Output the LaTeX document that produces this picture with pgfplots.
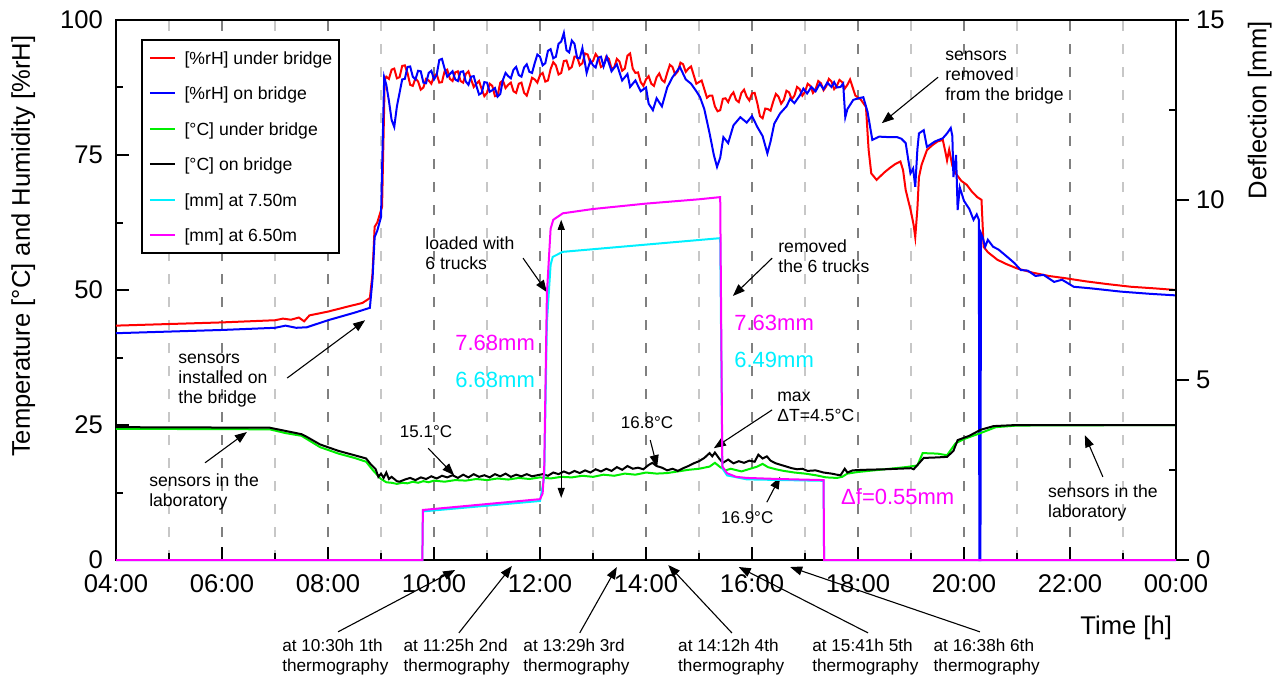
\documentclass[border=0pt]{standalone}
\usepackage{fontspec}
\setmainfont{Liberation Sans}
\usepackage{pgfplots}
\pgfplotsset{compat=1.18}
\usetikzlibrary{arrows.meta}
\definecolor{cRed}{RGB}{255,0,0}
\definecolor{cBlue}{RGB}{0,0,255}
\definecolor{cGreen}{RGB}{0,238,0}
\definecolor{cCyan}{RGB}{0,240,255}
\definecolor{cMag}{RGB}{255,0,255}
\newcommand{\tickfont}{\fontsize{12.8}{14}\selectfont}
\newcommand{\annfont}{\fontsize{8.8}{10}\selectfont}
\newcommand{\thfont}{\fontsize{8.6}{9.7}\selectfont}
\newcommand{\mmfont}{\fontsize{11}{13}\selectfont}
\newcommand{\tfont}{\fontsize{8.5}{10}\selectfont}
\begin{document}
\begin{tikzpicture}[
  ann/.style={draw=black, line width=0.55pt, -{Triangle[length=6pt,width=4.5pt]}},
  txt/.style={inner sep=0pt, align=left}
]
\begin{axis}[
  scale only axis, width=530pt, height=270pt, at={(0,0)}, anchor=south west,
  xmin=4, xmax=24, ymin=0, ymax=100, clip=false,
  xtick={4,6,...,24},
  xticklabels={04:00,06:00,08:00,10:00,12:00,14:00,16:00,18:00,20:00,22:00,00:00},
  minor xtick={5,7,...,23},
  ytick={0,25,50,75,100}, minor ytick={12.5,37.5,62.5,87.5},
  xtick pos=lower, ytick pos=left, tick align=inside,
  major tick length=6.5pt, minor tick length=3.5pt,
  tick style={black, line width=1pt},
  axis line style={line width=1.4pt},
  xmajorgrids, xminorgrids,
  major grid style={dash pattern=on 5pt off 6.5pt, line width=0.9pt, color=black!50},
  minor grid style={dash pattern=on 5pt off 6.5pt, line width=0.9pt, color=black!22},
  /pgf/number format/assume math mode=true,
  ticklabel style={font=\tickfont},
  xticklabel style={yshift=-4pt},
  yticklabel style={xshift=-3pt},
  legend cell align=left,
  legend image code/.code={\draw[#1] (0pt,0pt) -- (12.5pt,0pt);},
  legend style={at={(axis description cs:0,1)}, anchor=north west, xshift=12.5pt, yshift=-9.5pt,
    draw=black, line width=1pt, font=\annfont, inner xsep=3.5pt, inner ysep=3.2pt,
    row sep=6.25pt, column sep=4.3pt, nodes={inner sep=0pt, text height=9pt, text depth=2.5pt}},
]
\addplot[cRed, line width=1pt] coordinates {(4,43.4)(5,43.7)(6,44.0)(7,44.4)(7.15,44.7)(7.3,44.5)(7.45,44.9)(7.55,44.2)(7.65,45.3)(8.0,46.0)(8.4,47.0)(8.65,47.6)(8.79,48.5)(8.84,53)(8.88,61.7)(8.93,62.5)(9.02,65.4)
(9.07,88.9)(9.1,89.5)(9.15,89.1)(9.2,90.8)(9.25,91.0)(9.3,89.2)(9.35,89.4)(9.4,91.5)(9.45,91.6)(9.5,90.2)(9.55,88.0)(9.6,87.8)(9.65,89.2)(9.7,88.6)(9.75,87.1)(9.8,87.5)(9.85,89.1)(9.9,88.8)(9.95,88.2)(10.0,89.6)(10.05,90.0)(10.1,88.4)(10.15,88.5)(10.2,90.5)(10.25,90.8)(10.3,89.1)(10.35,88.7)(10.4,90.3)(10.45,90.5)(10.5,88.7)(10.55,88.4)(10.6,90.0)(10.65,90.5)(10.7,89.0)(10.75,87.6)(10.8,88.2)(10.85,88.7)(10.9,87.2)(10.95,85.9)(11.0,86.5)(11.05,88.2)(11.1,87.8)(11.15,85.9)(11.2,86.0)(11.25,88.4)(11.3,88.8)(11.35,87.4)(11.4,88.0)(11.45,88.4)(11.5,86.8)(11.55,86.5)(11.6,88.2)(11.65,88.4)(11.7,86.5)(11.75,86.0)(11.8,87.6)(11.85,89.3)(11.9,89.0)(11.95,88.4)(12.0,89.8)(12.05,90.2)(12.1,88.6)(12.15,88.8)(12.2,90.9)(12.25,92.2)(12.3,91.6)(12.35,89.9)(12.4,90.2)(12.45,92.4)(12.5,92.5)(12.55,90.9)(12.6,91.3)(12.65,93.2)(12.7,93.2)(12.75,91.6)(12.8,92.0)(12.85,93.8)(12.9,93.6)(12.95,92.0)(13.0,92.4)(13.05,93.7)(13.1,93.0)(13.15,91.3)(13.2,91.6)(13.25,93.2)(13.3,92.8)(13.35,91.0)(13.4,91.2)(13.45,92.8)(13.5,92.3)(13.55,90.6)(13.6,91.0)(13.65,93.4)(13.7,93.8)(13.75,91.0)(13.8,90.2)(13.85,90.3)(13.9,88.5)(13.95,87.8)(14.0,89.0)(14.05,89.6)(14.1,88.2)(14.15,87.8)(14.2,89.4)(14.25,90.1)(14.3,88.9)(14.35,88.5)(14.4,90.2)(14.45,91.7)(14.5,91.3)(14.55,89.9)(14.6,90.5)(14.65,92.1)(14.7,91.8)(14.75,90.4)(14.8,91.0)(14.85,91.4)(14.9,89.8)(14.95,88.2)(15.0,88.5)(15.05,88.8)(15.1,87.2)(15.15,85.6)(15.2,86.0)(15.25,86.0)(15.3,84.0)(15.35,83.1)(15.4,83.3)(15.45,85.4)(15.5,85.5)(15.55,84.8)(15.6,86.0)(15.65,86.6)(15.7,85.2)(15.75,84.8)(15.8,86.5)(15.85,87.1)(15.9,85.8)(15.95,85.1)(16.0,86.4)(16.05,86.5)(16.1,84.6)(16.15,82.2)(16.2,81.8)(16.25,83.6)(16.3,83.5)(16.35,83.2)(16.4,84.9)(16.45,86.3)(16.5,85.8)(16.55,84.5)(16.6,85.2)(16.65,86.9)(16.7,86.6)(16.75,85.3)(16.8,86.0)(16.85,87.6)(16.9,87.2)(16.95,86.0)(17.0,86.7)(17.05,88.2)(17.1,87.8)(17.15,86.5)(17.2,87.2)(17.25,88.7)(17.3,88.3)(17.35,87.0)(17.4,87.7)(17.45,89.1)(17.5,88.6)(17.55,87.2)(17.6,87.8)(17.65,88.9)(17.7,88.5)(17.75,87.3)(17.8,88.0)(17.85,89.0)(17.95,86.0)(18.05,85.3)(18.15,83.9)(18.2,76)(18.25,71.6)(18.35,70.4)(18.5,71.8)(18.6,72.6)(18.7,73.3)(18.8,73.8)(18.85,72.2)(18.9,68.5)(18.95,66.5)(19.0,64.5)(19.05,62.0)(19.08,59.8)(19.12,65)(19.15,70.9)(19.2,73.2)(19.3,75.9)(19.4,76.8)(19.5,77.5)(19.6,77.8)(19.65,75.5)(19.68,74.0)(19.72,76.0)(19.78,73.0)(19.85,71.5)(19.95,70.2)(20.05,69.5)(20.15,68.2)(20.25,67.2)(20.33,66.7)(20.37,58.0)(20.45,57.0)(20.63,55.6)(20.8,54.8)(21.0,54.0)(21.3,53.2)(21.6,52.6)(21.9,52.2)(22.3,51.6)(22.7,51.1)(23.15,50.6)(23.6,50.3)(24.0,50.0)};
\addlegendentry{\relax[\%rH] under bridge}
\addplot[cBlue, line width=1pt] coordinates {(4,42.0)(5,42.3)(6,42.6)(7,43.0)(7.2,43.4)(7.4,43.0)(7.6,43.1)(8.0,44.4)(8.5,45.8)(8.79,46.7)(8.84,52)(8.88,59.8)(8.93,61.0)(9.0,63.5)(9.06,89.4)(9.1,88.0)(9.15,85)(9.2,81.5)(9.25,80.2)(9.3,84.0)(9.35,86.5)
(9.4,89.0)(9.45,89.1)(9.5,91.3)(9.55,91.4)(9.6,89.5)(9.65,89.0)(9.7,90.6)(9.75,90.5)(9.8,88.4)(9.85,88.3)(9.9,90.2)(9.95,90.6)(10.0,89.0)(10.05,89.8)(10.1,92.6)(10.15,92.8)(10.2,91.0)(10.25,89.5)(10.3,90.0)(10.35,90.5)(10.4,89.0)(10.45,88.7)(10.5,90.4)(10.55,90.5)(10.6,88.6)(10.65,88.0)(10.7,89.5)(10.75,89.6)(10.8,87.8)(10.85,86.2)(10.9,86.5)(10.95,88.5)(11.0,88.4)(11.05,86.7)(11.1,87.0)(11.15,87.4)(11.2,85.8)(11.25,86.3)(11.3,88.9)(11.35,90.2)(11.4,89.6)(11.45,89.2)(11.5,90.8)(11.55,91.3)(11.6,89.8)(11.65,89.5)(11.7,91.2)(11.75,91.8)(11.8,90.4)(11.85,90.2)(11.9,92.0)(11.95,93.6)(12.0,93.2)(12.05,91.6)(12.1,92.0)(12.15,94.3)(12.2,94.6)(12.25,92.9)(12.3,93.2)(12.35,95.6)(12.4,96.0)(12.45,97.6)(12.5,94.4)(12.55,94.0)(12.6,96.2)(12.65,95.6)(12.7,93.0)(12.75,92.9)(12.8,94.8)(12.88,90.2)(12.95,92.5)(13.0,91.6)(13.05,91.2)(13.1,93.0)(13.15,93.2)(13.2,91.4)(13.26,93.2)(13.35,90.5)(13.45,91.8)(13.55,88.8)(13.65,90.0)(13.7,87.6)(13.8,88.8)(13.9,86.8)(14.0,87.5)(14.05,84.5)(14.13,83.3)(14.2,85.5)(14.3,84.0)(14.4,87.5)(14.5,89.4)(14.64,91.3)(14.75,89.0)(14.85,88.2)(14.95,86.8)(15.02,85.7)(15.1,83.5)(15.2,79.0)(15.28,75.0)(15.34,72.8)(15.4,74.5)(15.46,78.3)(15.55,77.2)(15.65,80.5)(15.78,82.0)(15.9,81.0)(16.0,82.2)(16.1,80.2)(16.2,78.5)(16.29,75.3)(16.35,77.5)(16.42,80.8)(16.53,82.7)(16.65,84.0)(16.72,85.4)(16.8,84.6)(16.9,86.0)(16.97,87.3)(17.04,86.4)(17.12,87.6)(17.2,86.8)(17.28,88.2)(17.35,87.2)(17.42,88.4)(17.5,87.6)(17.55,88.5)(17.6,87.5)(17.67,87.6)(17.72,88.2)(17.76,82.0)(17.8,83.5)(17.91,85.2)(18.0,85.5)(18.1,85.7)(18.18,83.0)(18.27,77.8)(18.4,78.4)(18.6,78.3)(18.74,78.3)(18.82,78.0)(18.9,77.2)(18.95,74.0)(18.99,71.6)(19.04,72.5)(19.08,69.1)(19.12,76.0)(19.15,79.0)(19.24,79.6)(19.3,76.5)(19.45,77.5)(19.6,78.1)(19.68,79.0)(19.75,80.0)(19.78,78.5)(19.8,70.9)(19.85,75.0)(19.88,64.8)(19.92,69.0)(20.0,66.5)(20.1,65.0)(20.18,63.0)(20.24,64.0)(20.28,63.0)(20.29,0)(20.31,0)(20.32,60.5)(20.35,59.8)(20.4,58.0)(20.45,59.3)(20.55,58.0)(20.65,57.5)(20.82,56.1)(20.95,55.0)(21.07,53.7)(21.2,53.6)(21.35,52.6)(21.5,52.8)(21.7,51.5)(21.85,51.9)(22.07,50.6)(22.4,50.3)(22.96,49.7)(23.5,49.3)(24.0,49.0)};
\addlegendentry{\relax[\%rH] on bridge}
\addplot[cGreen, line width=1pt] coordinates {(4,24.3)(6.9,24.2)(7.2,23.5)(7.5,23.0)(7.6,22.4)(7.85,20.9)(8.2,19.7)(8.5,18.9)(8.72,18.2)(8.85,16.6)(9.0,15.0)(9.1,14.4)(9.2,14.3)(9.3,14.1)(9.4,14.3)(9.5,14.2)(9.6,14.5)(9.7,14.3)(9.8,14.6)(9.9,14.4)(10.0,14.7)(10.2,14.5)(10.4,14.8)(10.6,14.7)(10.8,15.0)(11.0,14.8)(11.2,15.1)(11.4,14.9)(11.6,15.2)(11.8,15.0)(12.0,15.3)(12.2,15.1)(12.4,15.4)(12.6,15.3)(12.8,15.6)(13.0,15.4)(13.2,15.8)(13.4,15.6)(13.6,16.0)(13.8,15.8)(14.0,16.2)(14.2,16.0)(14.4,16.1)(14.6,16.4)(14.8,16.7)(15.0,16.9)(15.2,17.3)(15.3,18.0)(15.4,17.2)(15.5,16.6)(15.6,16.9)(15.8,16.4)(16.0,17.0)(16.1,17.3)(16.2,17.8)(16.3,17.2)(16.45,16.8)(16.6,16.5)(16.8,16.2)(17.0,16.0)(17.2,15.7)(17.4,15.3)(17.6,15.2)(17.7,15.4)(17.8,16.0)(18.0,16.3)(18.3,16.6)(18.6,16.9)(18.9,17.2)(19.12,17.5)(19.22,19.8)(19.5,19.7)(19.68,19.4)(19.84,21.6)(20.0,22.4)(20.31,23.5)(20.6,24.6)(21.0,24.9)(24.0,25.0)};
\addlegendentry{\relax[°C] under bridge}
\addplot[black, line width=1pt] coordinates {(4.0,24.6)(6.9,24.5)(7.2,23.9)(7.5,23.3)(7.6,22.8)(7.85,21.4)(8.2,20.2)(8.5,19.4)(8.72,18.8)(8.8,17.8)(8.9,16.8)(8.95,15.4)(9.0,16.0)(9.05,15.2)(9.1,16.2)(9.15,15.0)(9.2,15.4)(9.3,14.6)(9.35,14.5)(9.45,14.9)(9.55,15.2)(9.65,14.8)(9.75,15.3)(9.85,15.0)(9.95,15.5)(10.05,15.1)(10.15,15.6)(10.25,15.3)(10.35,15.7)(10.45,15.2)(10.55,15.8)(10.65,15.3)(10.75,15.9)(10.85,15.4)(10.95,15.7)(11.05,15.3)(11.15,15.9)(11.25,15.5)(11.35,16.0)(11.45,15.4)(11.55,15.8)(11.65,15.5)(11.75,15.9)(11.85,15.5)(11.95,15.7)(12.05,15.9)(12.15,15.6)(12.25,16.2)(12.35,15.9)(12.45,16.4)(12.55,16.0)(12.65,16.5)(12.75,16.1)(12.85,16.6)(12.95,16.2)(13.05,16.8)(13.15,16.4)(13.25,16.9)(13.35,16.5)(13.45,17.2)(13.55,16.7)(13.65,17.4)(13.75,16.9)(13.85,17.1)(13.95,16.8)(14.05,17.6)(14.12,18.0)(14.2,17.4)(14.3,17.1)(14.4,16.6)(14.5,16.9)(14.6,16.5)(14.7,17.0)(14.8,17.4)(14.9,17.9)(15.0,18.3)(15.1,18.9)(15.2,19.8)(15.25,19.2)(15.3,19.9)(15.38,18.8)(15.45,18.0)(15.55,18.6)(15.65,17.9)(15.75,18.3)(15.85,18.0)(15.95,18.4)(16.05,18.2)(16.12,19.5)(16.2,18.8)(16.28,19.2)(16.35,18.4)(16.45,17.9)(16.55,17.6)(16.65,17.3)(16.75,17.0)(16.85,16.8)(16.95,16.9)(17.05,16.5)(17.2,16.6)(17.35,16.2)(17.5,16.0)(17.6,15.8)(17.67,15.7)(17.75,16.9)(17.8,16.2)(17.9,16.6)(18.1,16.7)(18.5,16.8)(19.0,17.0)(19.05,16.8)(19.24,18.9)(19.5,19.0)(19.68,19.1)(19.8,20.2)(19.88,22.2)(20.1,23.0)(20.31,24.1)(20.56,24.8)(21.0,25.0)(24.0,25.0)};
\addlegendentry{\relax[°C] on bridge}
\addlegendimage{cCyan, line width=1pt}
\addlegendentry{\relax[mm] at 7.50m}
\addlegendimage{cMag, line width=1pt}
\addlegendentry{\relax[mm] at 6.50m}

% axis labels
\node[rotate=90, font=\tickfont, inner sep=0pt] at (axis cs:2.25,58.1) {Temperature [°C] and Humidity [\%rH]};
\node[rotate=90, font=\tickfont, inner sep=0pt] at (axis cs:25.58,83.3) {Deflection [mm]};
\node[font=\tickfont, inner sep=0pt] at (axis cs:23.06,-12.6) {Time [h]};

% annotations
\node[txt, anchor=west, font=\annfont] at (axis cs:9.83,56.85) {loaded with\\6 trucks};
\draw[ann] (axis cs:11.68,55.9) -- (axis cs:12.13,49.6);
\node[txt, anchor=east, font=\mmfont, text=cMag] at (axis cs:11.91,40.2) {7.68mm};
\node[txt, anchor=east, font=\mmfont, text=cCyan] at (axis cs:11.91,33.3) {6.68mm};
\draw[line width=0.55pt, {Triangle[length=5pt,width=3.5pt]}-{Triangle[length=5pt,width=3.5pt]}] (axis cs:12.40,63.0) -- (axis cs:12.40,11.5);
\node[txt, anchor=west, font=\annfont] at (axis cs:16.49,56.3) {removed\\the 6 trucks};
\draw[ann] (axis cs:16.38,55.9) -- (axis cs:15.64,48.9);
\node[txt, anchor=west, font=\mmfont, text=cMag] at (axis cs:15.66,43.9) {7.63mm};
\node[txt, anchor=west, font=\mmfont, text=cCyan] at (axis cs:15.66,37.0) {6.49mm};
\node[txt, anchor=west, font=\annfont] at (axis cs:16.47,28.3) {max\\ΔT=4.5°C};
\draw[ann] (axis cs:16.38,27.8) -- (axis cs:15.28,20.7);
\node[txt, font=\tfont] at (axis cs:14.02,25.4) {16.8°C};
\draw[ann] (axis cs:14.08,22.2) -- (axis cs:14.21,17.2);
\node[txt, font=\tfont] at (axis cs:9.85,23.7) {15.1°C};
\draw[ann] (axis cs:9.89,20.7) -- (axis cs:10.38,15.7);
\node[txt, font=\tfont] at (axis cs:15.91,7.8) {16.9°C};
\draw[ann] (axis cs:16.28,10.7) -- (axis cs:16.53,15.4);
\node[txt, font=\mmfont, text=cMag] at (axis cs:18.75,11.7) {Δf=0.55mm};
\node[txt, anchor=west, font=\annfont] at (axis cs:21.58,10.6) {sensors in the\\laboratory};
\draw[ann] (axis cs:22.62,15.4) -- (axis cs:22.28,23.1);
\node[txt, anchor=west, font=\annfont] at (axis cs:4.62,12.6) {sensors in the\\laboratory};
\draw[ann] (axis cs:5.68,18.0) -- (axis cs:6.47,23.7);
\node[txt, anchor=west, font=\annfont] at (axis cs:5.17,33.3) {sensors\\installed on\\the bridge};
\draw[ann] (axis cs:7.23,33.7) -- (axis cs:8.70,44.4);
\node[txt, anchor=west, font=\annfont] at (axis cs:19.64,89.3) {sensors\\removed\\from the bridge};
\draw[ann] (axis cs:19.51,89.4) -- (axis cs:18.45,80.9);

% thermography annotations
\node[txt, anchor=west, font=\thfont] at (axis cs:7.13,-17.96) {at 10:30h 1th\\thermography};
\node[txt, anchor=west, font=\thfont] at (axis cs:9.42,-17.96) {at 11:25h 2nd\\thermography};
\node[txt, anchor=west, font=\thfont] at (axis cs:11.68,-17.96) {at 13:29h 3rd\\thermography};
\node[txt, anchor=west, font=\thfont] at (axis cs:14.6,-17.96) {at 14:12h 4th\\thermography};
\node[txt, anchor=west, font=\thfont] at (axis cs:17.13,-17.96) {at 15:41h 5th\\thermography};
\node[txt, anchor=west, font=\thfont] at (axis cs:19.42,-17.96) {at 16:38h 6th\\thermography};
\draw[ann] (axis cs:8.19,-13.3) -- (axis cs:10.40,-1.85);
\draw[ann] (axis cs:10.47,-13.5) -- (axis cs:11.47,-1.1);
\draw[ann] (axis cs:12.75,-13.5) -- (axis cs:13.45,-1.3);
\draw[ann] (axis cs:15.62,-13.5) -- (axis cs:14.42,-0.93);
\draw[ann] (axis cs:18.19,-13.5) -- (axis cs:15.75,-1.3);
\draw[ann] (axis cs:20.30,-13.3) -- (axis cs:16.72,-1.3);
\end{axis}

\begin{axis}[
  scale only axis, width=530pt, height=270pt, at={(0,0)}, anchor=south west,
  xmin=4, xmax=24, ymin=0, ymax=15, clip=false,
  axis x line=none, axis y line*=right,
  ytick={0,5,10,15}, minor ytick={2.5,7.5,12.5},
  tick align=outside, major tick length=6.5pt, minor tick length=3.5pt,
  tick style={black, line width=1pt},
  minor tick style={xshift=-3.5pt},
  axis line style={line width=1.4pt},
  /pgf/number format/assume math mode=true,
  ticklabel style={font=\tickfont},
]
\addplot[cCyan, line width=1pt] coordinates {(4,0)(9.78,0)(9.79,1.35)(12.0,1.64)(12.08,2.3)(12.13,6.6)(12.2,8.2)(12.24,8.42)(12.43,8.56)(15.4,8.94)(15.44,2.55)(15.53,2.35)(15.9,2.24)(17.35,2.2)(17.36,0)(24,0)};
\addplot[cMag, line width=1pt] coordinates {(4,0)(9.78,0)(9.79,1.39)(12.0,1.69)(12.05,1.85)(12.08,2.6)(12.13,7.4)(12.2,9.2)(12.25,9.45)(12.43,9.63)(13.0,9.75)(14.0,9.9)(15.0,10.02)(15.4,10.08)(15.44,2.6)(15.53,2.41)(15.7,2.31)(15.9,2.28)(16.5,2.25)(17.35,2.22)(17.36,0)(24,0)};
\end{axis}
\pgfresetboundingbox
\path[use as bounding box] (-58pt,-65.5pt) rectangle (578pt,280pt);
\end{tikzpicture}
\end{document}
